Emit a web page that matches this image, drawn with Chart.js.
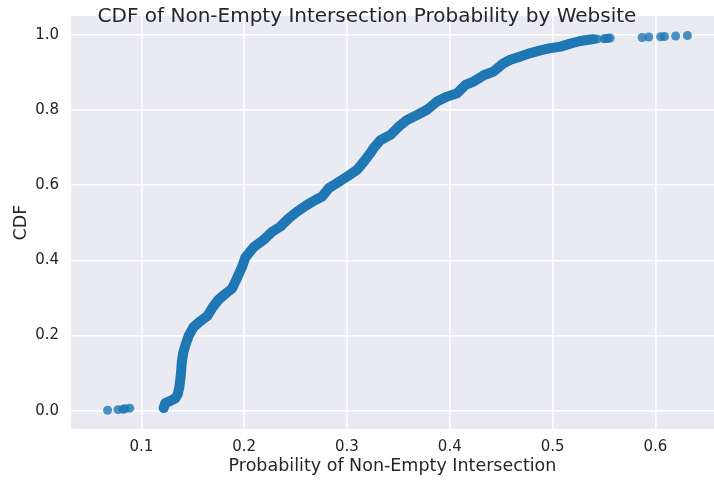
<!DOCTYPE html>
<html>
<head>
<meta charset="utf-8">
<script src="https://cdn.jsdelivr.net/npm/chart.js@4.4.1/dist/chart.umd.min.js"></script>
<style>
  html, body { margin: 0; padding: 0; background: #ffffff; }
  #wrap { width: 714px; height: 482px; }
</style>
</head>
<body>
<div id="wrap"><canvas id="cdf" width="714" height="482"></canvas></div>
<script>
// values
const curveX = [0.1217, 0.1233, 0.1266, 0.1331, 0.1355, 0.1370, 0.1384, 0.1394, 0.1409, 0.1433,
  0.1460, 0.1506, 0.1564, 0.1642, 0.1691, 0.1749, 0.1817, 0.1882, 0.1931, 0.1980,
  0.2012, 0.2092, 0.2190, 0.2271, 0.2352, 0.2433, 0.2515, 0.2612, 0.2693, 0.2758,
  0.2822, 0.2904, 0.3001, 0.3098, 0.3162, 0.3228, 0.3260, 0.3325, 0.3422, 0.3503,
  0.3585, 0.3682, 0.3779, 0.3876, 0.3974, 0.4071, 0.4152, 0.4232, 0.4330, 0.4427,
  0.4524, 0.4589, 0.4687, 0.4784, 0.4881, 0.4979, 0.5076, 0.5173, 0.5270, 0.5368, 0.5397];
const curveY = [0.007, 0.020, 0.024, 0.033, 0.045, 0.063, 0.095, 0.130, 0.156, 0.178,
  0.199, 0.222, 0.236, 0.252, 0.274, 0.295, 0.311, 0.325, 0.353, 0.383,
  0.408, 0.435, 0.455, 0.476, 0.490, 0.512, 0.530, 0.548, 0.561, 0.570,
  0.592, 0.606, 0.623, 0.641, 0.662, 0.686, 0.699, 0.720, 0.734, 0.756,
  0.774, 0.787, 0.801, 0.823, 0.836, 0.845, 0.867, 0.876, 0.893, 0.903,
  0.925, 0.934, 0.943, 0.952, 0.959, 0.965, 0.969, 0.977, 0.984, 0.988, 0.989];

const lowX = [0.0672, 0.0773, 0.0822, 0.0844, 0.0888];
const lowY = [0.0013, 0.0027, 0.0040, 0.0053, 0.0067];

const highX = [0.5433, 0.5500, 0.5520, 0.5540, 0.5560, 0.5871, 0.5935, 0.6051, 0.6089, 0.6197, 0.6311];
const highY = [0.9893, 0.9900, 0.9907, 0.9913, 0.9920, 0.9933, 0.9947, 0.9953, 0.9960, 0.9973, 0.9987];

const xTicks = [0.1, 0.2, 0.3, 0.4, 0.5, 0.6];
const yTicks = [0.0, 0.2, 0.4, 0.6, 0.8, 1.0];

const toPoints = (xs, ys) => xs.map((x, i) => ({ x: x, y: ys[i] }));

const textColor = "#262626";
const blue = "#1f77b4";
const blueSoft = "rgba(31, 119, 180, 0.8)";

const background = {
  id: "background",
  beforeDraw(chart) {
    const { ctx, chartArea: a } = chart;
    ctx.save();
    ctx.fillStyle = "#eaeaf2";
    ctx.fillRect(a.left, a.top, a.right - a.left, a.bottom - a.top);
    ctx.restore();
  },
};

const plotTitle = {
  id: "plotTitle",
  afterDraw(chart) {
    const ctx = chart.ctx;
    ctx.save();
    ctx.font = "20px 'DejaVu Sans'";
    ctx.fillStyle = textColor;
    ctx.textAlign = "center";
    ctx.textBaseline = "alphabetic";
    ctx.fillText("CDF of Non-Empty Intersection Probability by Website", 367, 21.5);
    ctx.restore();
  },
};

new Chart(document.getElementById("cdf"), {
  type: "scatter",
  data: {
    datasets: [
      {
        data: toPoints(curveX, curveY),
        showLine: true,
        borderColor: blue,
        borderWidth: 10,
        borderCapStyle: "round",
        borderJoinStyle: "round",
        backgroundColor: blue,
        pointRadius: 4.5,
        pointBorderWidth: 0,
      },
      {
        data: toPoints(lowX, lowY),
        backgroundColor: blueSoft,
        pointRadius: 4.5,
        pointBorderWidth: 0,
      },
      {
        data: toPoints(highX, highY),
        backgroundColor: blueSoft,
        pointRadius: 4.5,
        pointBorderWidth: 0,
      },
    ],
  },
  options: {
    responsive: false,
    animation: false,
    events: [],
    layout: { autoPadding: false, padding: { top: 16, right: 0, bottom: 0, left: 0 } },
    plugins: {
      legend: { display: false },
      tooltip: { enabled: false },
    },
    scales: {
      x: {
        type: "linear",
        min: 0.0316,
        max: 0.657,
        afterFit(scale) {
          scale.height = 53;
          scale.paddingLeft = 0;
          scale.paddingRight = 0;
        },
        afterBuildTicks(scale) { scale.ticks = xTicks.map((v) => ({ value: v })); },
        grid: { color: "#ffffff", lineWidth: 1.6, drawTicks: false },
        border: { display: false },
        ticks: {
          padding: 9,
          color: textColor,
          font: { family: "DejaVu Sans", size: 15 },
          callback: (v) => v.toFixed(1),
        },
        title: {
          display: true,
          text: "Probability of Non-Empty Intersection",
          color: textColor,
          font: { family: "DejaVu Sans", size: 17.5 },
          padding: { top: 0, bottom: 5.5 },
        },
      },
      y: {
        min: -0.0487,
        max: 1.0506,
        afterFit(scale) {
          scale.width = 71;
          scale.paddingTop = 0;
          scale.paddingBottom = 0;
        },
        afterBuildTicks(scale) { scale.ticks = yTicks.map((v) => ({ value: v })); },
        grid: { color: "#ffffff", lineWidth: 1.6, drawTicks: false },
        border: { display: false },
        ticks: {
          padding: 12,
          color: textColor,
          font: { family: "DejaVu Sans", size: 15 },
          callback: (v) => v.toFixed(1),
        },
        title: {
          display: true,
          text: "CDF",
          color: textColor,
          font: { family: "DejaVu Sans", size: 17.5 },
          padding: { top: 10.5, bottom: 0 },
        },
      },
    },
  },
  plugins: [background, plotTitle],
});
</script>
</body>
</html>
